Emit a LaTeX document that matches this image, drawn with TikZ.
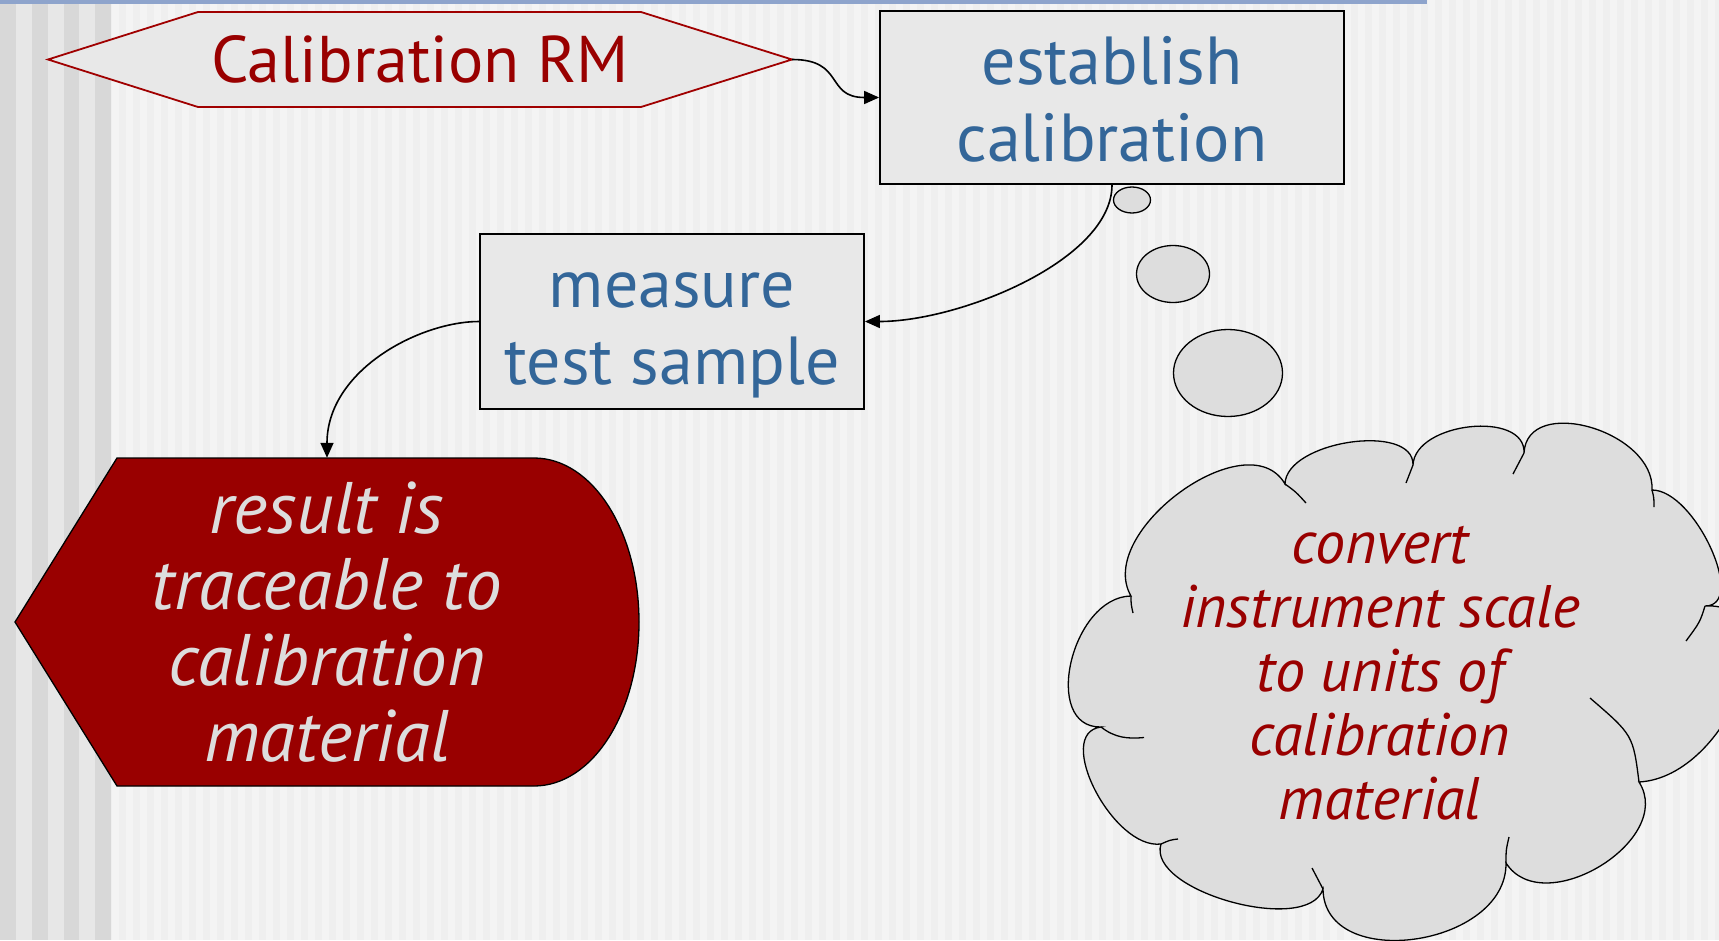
\documentclass[tikz,border=0pt]{standalone}
\usepackage{fontspec}
\setmainfont{PT Sans}
\usetikzlibrary{arrows.meta,shapes.geometric,calc}
\definecolor{bg}{HTML}{EFEFEF}
\definecolor{bgstripe}{HTML}{F4F4F4}
\definecolor{banddark}{HTML}{D8D8D8}
\definecolor{bandlight}{HTML}{E7E7E7}
\definecolor{topblue}{HTML}{8EA4CC}
\definecolor{boxfill}{HTML}{E8E8E8}
\definecolor{darkred}{HTML}{990000}
\definecolor{hexred}{HTML}{A00000}
\definecolor{bluetext}{HTML}{336699}
\definecolor{restext}{HTML}{DDDDDD}
\definecolor{bubblefill}{HTML}{DDDDDD}
\begin{document}
\begin{tikzpicture}[x=1pt,y=-1pt,
  boxnode/.style={draw=black, line width=1.8pt, fill=boxfill, inner sep=0pt},
  boxtext/.style={inner sep=0pt, align=center, text=bluetext, font={\fontsize{68}{77}\selectfont}},
  bubble/.style={ellipse, draw=black, line width=1.3pt, fill=bubblefill, inner sep=0pt},
  conn/.style={draw=black, line width=1.6pt, -{Triangle[length=15pt,width=13pt]}},
  cloudline/.style={draw=black, line width=1.3pt}]
\useasboundingbox (0,0) rectangle (1719,940);
\clip (0,0) rectangle (1719,940);
% background
\fill[bg] (0,0) rectangle (1719,940);
\foreach \i in {0,...,115} \fill[bgstripe] (112+\i*14,0) rectangle ++(7,940);
\foreach \x in {0,32,63,95} \fill[banddark] (\x,0) rectangle ++(16,940);
\foreach \x in {16,48,79} \fill[bandlight] (\x,0) rectangle ++(16,940);
\fill[topblue] (0,0) rectangle (1427,4);
% hexagon shape
\filldraw[fill=boxfill, draw=hexred, line width=1.8pt]
  (48,59.5) -- (198,12) -- (641,12) -- (792,59.5) -- (641,107) -- (198,107) -- cycle;
% result shape
\filldraw[fill=darkred, draw=black, line width=1.3pt]
  (15,622) -- (117,458) -- (534,458) .. controls (592.5,458) and (639,531.4) .. (639,622)
  .. controls (639,712.6) and (592.5,786) .. (534,786) -- (117,786) -- cycle;
% cloud shape
\filldraw[fill=bubblefill, cloudline]
  (1101,727) .. controls (1041,728) and (1071,597) .. (1131,596)
  .. controls (1094,532) and (1248,420) .. (1285,484)
  .. controls (1286,441) and (1414,422) .. (1413,465)
  .. controls (1415,422) and (1526,410) .. (1524,453)
  .. controls (1527,394) and (1655,431) .. (1652,490)
  .. controls (1695,490) and (1748,606) .. (1705,606)
  .. controls (1796,601) and (1730,777) .. (1639,782)
  .. controls (1676,840) and (1543,921) .. (1506,863)
  .. controls (1507,947) and (1324,973) .. (1323,889)
  .. controls (1308,936) and (1146,891) .. (1161,844)
  .. controls (1113,850) and (1053,733) .. (1101,727) -- cycle;
\draw[cloudline] (1101,727) .. controls (1115,738) and (1128,739) .. (1144,737.5);
\draw[cloudline] (1131,596) .. controls (1131,604) .. (1133,613);
\draw[cloudline] (1285,484) .. controls (1296,492) .. (1306,503);
\draw[cloudline] (1413,465) .. controls (1410,474) .. (1406,483);
\draw[cloudline] (1524,453) .. controls (1518,463) .. (1513,474);
\draw[cloudline] (1652,490) .. controls (1654,498) .. (1654,507);
\draw[cloudline] (1705,606) .. controls (1700,622) .. (1686,641);
\draw[cloudline] (1639,782) .. controls (1633,735) .. (1590,698);
\draw[cloudline] (1506,863) .. controls (1506,850) .. (1509,837);
\draw[cloudline] (1323,889) .. controls (1318,878) .. (1312,868);
\draw[cloudline] (1161,844) .. controls (1170,840) .. (1178,839);
% thought bubbles
\node[bubble, minimum width=37pt, minimum height=26pt] (b1) at (1132,200) {};
\node[bubble, minimum width=73pt, minimum height=57pt] (b2) at (1173,274) {};
\node[bubble, minimum width=109pt, minimum height=87pt] (b3) at (1228,373) {};
% text nodes
\node[inner sep=0pt, minimum width=744pt, minimum height=95pt, text=darkred,
  font={\fontsize{66}{76}\selectfont}] (hex) at (420,59.5) {Calibration RM};
\node[boxnode, minimum width=464pt, minimum height=173pt] (est) at (1112,97.5) {};
\node[boxtext] (esttxt) at ($(est.center)+(0,2)$) {establish\\calibration};
\node[boxnode, minimum width=384pt, minimum height=175pt] (meas) at (672,321.5) {};
\node[boxtext] (meastxt) at ($(meas.center)+(0,14)$) {measure\\test sample};
\node[inner sep=0pt, minimum width=624pt, minimum height=328pt, align=center, text=restext,
  font={\fontsize{73}{76}\selectfont\itshape}] (res) at (327,622)
  {result is\\traceable to\\calibration\\material};
\node[inner sep=0pt, align=center, text=darkred,
  font={\fontsize{60}{64}\selectfont\itshape}] (cloudtxt) at (1380,673)
  {convert\\instrument scale\\to units of\\calibration\\material};
% connectors
\draw[conn] (hex.east) .. controls (845,59.5) and (825,97.5) .. (est.west);
\draw[conn] (est.south) .. controls (1112,260) and (960,321.5) .. (meas.east);
\draw[conn] (meas.west) .. controls (420,321.5) and (327,370) .. (res.north);
\end{tikzpicture}
\end{document}
